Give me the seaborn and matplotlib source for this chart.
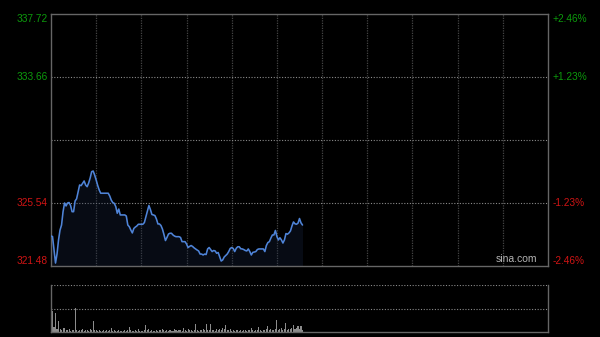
import numpy as np
import pandas as pd
import seaborn as sns
import matplotlib.pyplot as plt

# intraday minute prices (HK session, 330 min)
prices = [
    323.41, 323.38, 322.51, 321.67, 322.25, 323.16, 323.80, 324.12, 324.98, 325.54,
    325.35, 325.54, 325.57, 325.38, 324.98, 324.98, 325.67, 325.81, 326.25, 326.70,
    326.66, 326.81, 326.96, 326.70, 326.59, 326.83, 327.15, 327.56, 327.60, 327.34,
    327.02, 326.67, 326.38, 326.17, 326.17, 326.17, 326.17, 326.17, 326.17, 325.99,
    325.73, 325.57, 325.52, 325.31, 324.88, 325.15, 324.77, 324.77, 324.77, 324.77,
    324.70, 324.12, 324.01, 323.80, 323.61, 323.90, 323.99, 324.06, 324.17, 324.17,
    324.17, 324.17, 324.28, 324.64, 324.98, 325.38, 325.12, 324.80, 324.77, 324.73,
    324.51, 324.19, 324.19, 324.09, 323.86, 323.51, 323.12, 323.32, 323.54, 323.59,
    323.59, 323.48, 323.41, 323.37, 323.37, 323.37, 323.32, 323.05, 323.05, 323.05,
    322.90, 322.67, 322.74, 322.80, 322.74, 322.65, 322.58, 322.51, 322.45, 322.25,
    322.25, 322.19, 322.25, 322.22, 322.58, 322.67, 322.54, 322.41, 322.48, 322.45,
    322.30, 322.35, 322.08, 321.80, 321.87, 322.06, 322.16, 322.25, 322.41, 322.61,
    322.67, 322.61, 322.41, 322.62, 322.72, 322.72, 322.59, 322.58, 322.54, 322.48,
    322.45, 322.58, 322.41, 322.19, 322.36, 322.38, 322.41, 322.54, 322.58, 322.58,
    322.58, 322.58, 322.41, 322.80, 322.99, 323.05, 323.28, 323.48, 323.48, 323.77,
    323.38, 323.16, 323.30, 323.16, 322.96, 323.16, 323.57, 323.53, 323.61, 323.74,
    324.06, 324.32, 324.20, 324.17, 324.24, 324.54, 324.26, 324.12,
]

# relative minute volume (max = 100)
volume = [
    100, 44, 10, 40, 6, 23, 6, 4, 8, 8, 5, 4, 6, 3, 5, 4, 51, 4, 3, 5,
    4, 6, 3, 4, 5, 3, 6, 4, 23, 5, 4, 3, 4, 3, 2, 4, 3, 5, 3, 4,
    8, 3, 4, 2, 3, 4, 3, 2, 3, 4, 3, 5, 10, 4, 3, 2, 4, 3, 7, 3,
    2, 3, 4, 15, 5, 6, 3, 4, 2, 3, 4, 3, 5, 4, 6, 4, 3, 5, 3, 4,
    2, 3, 6, 4, 3, 4, 5, 3, 8, 4, 3, 6, 4, 5, 3, 4, 17, 4, 3, 5,
    4, 6, 4, 17, 5, 4, 17, 5, 4, 3, 6, 4, 7, 5, 8, 6, 15, 5, 4, 7,
    3, 4, 3, 5, 4, 3, 4, 3, 5, 4, 3, 4, 5, 8, 4, 3, 4, 5, 10, 4,
    3, 4, 5, 7, 13, 4, 6, 5, 4, 7, 25, 5, 6, 8, 4, 6, 19, 5, 7, 6,
    9, 15, 6, 8, 13, 7, 12, 5,
]

prev_close = 329.60
price_ticks = [337.72, 333.66, 325.54, 321.48]
session_minutes = 330

def create_chart():
    sns.set_theme(style="dark")
    plt.rcParams['font.family'] = ['Liberation Sans', 'DejaVu Sans']

    df = pd.DataFrame({'minute': np.arange(len(prices)), 'price': prices})
    vol = pd.DataFrame({'minute': np.arange(len(volume)), 'volume': volume})

    fig = plt.figure(figsize=(6, 3.37), dpi=100, facecolor='black')
    ax = fig.add_axes([51 / 600, 1 - 266 / 337, 497 / 600, 252 / 337])
    axv = fig.add_axes([51 / 600, 1 - 332 / 337, 497 / 600, 47 / 337])

    lo, hi = price_ticks[-1], price_ticks[0]
    for a in (ax, axv):
        a.set_facecolor('black')
        a.set_xlim(0, session_minutes)
        a.set_xticks([])
        a.set_yticks([])
        for s in a.spines.values():
            s.set_color('#666666')
            s.set_linewidth(1)

    ax.set_ylim(lo, hi)

    # grid
    for m in range(30, session_minutes, 30):
        ax.axvline(m, color='#444444', lw=0.9, ls=(0, (1, 1)), zorder=1)
    for v in [price_ticks[1], prev_close, price_ticks[2]]:
        ax.axhline(v, color='#8a8a8a', lw=0.8, ls=(0, (1, 1.5)), zorder=1)

    # faint shade under the price line
    ax.fill_between(df['minute'], df['price'], lo, color='#1b2a4a', alpha=0.28,
                    lw=0, zorder=2)
    sns.lineplot(data=df, x='minute', y='price', ax=ax, color='#4f84d8',
                 lw=1.15, zorder=3)
    ax.set_xlabel('')
    ax.set_ylabel('')

    # price / percent labels
    for v in price_ticks:
        col = '#0c9a0c' if v > prev_close else '#d01414'
        if v == hi:
            va = 'top'
        elif v == lo:
            va = 'bottom'
        else:
            va = 'center'
        pct = (v - prev_close) / prev_close * 100
        ax.annotate(f"{v:.2f}", xy=(0, v), xycoords=('axes fraction', 'data'),
                    xytext=(-2.3, 0), textcoords='offset points',
                    ha='right', va=va, fontsize=7.3, color=col)
        ax.annotate(f"{pct:+.2f}%", xy=(1, v), xycoords=('axes fraction', 'data'),
                    xytext=(3.3, 0), textcoords='offset points',
                    ha='left', va=va, fontsize=7.3, color=col)

    ax.text(0.978, 0.006, 'sina.com', transform=ax.transAxes, ha='right',
            va='bottom', fontsize=7.5, color='#b4b4b4')

    # volume panel
    axv.set_ylim(0, max(volume))
    axv.spines['top'].set_visible(False)
    axv.axhline(max(volume), color='#8a8a8a', lw=0.8, ls=(0, (1, 1.5)))
    axv.axhline(max(volume) / 2, color='#8a8a8a', lw=0.8, ls=(0, (1, 1.5)))
    axv.bar(vol['minute'], vol['volume'], width=0.7, color='#8c8c8c', lw=0)

    fig.savefig('out.png', dpi=100, facecolor='black')

def main():
    create_chart()

if __name__ == "__main__":
    main()
